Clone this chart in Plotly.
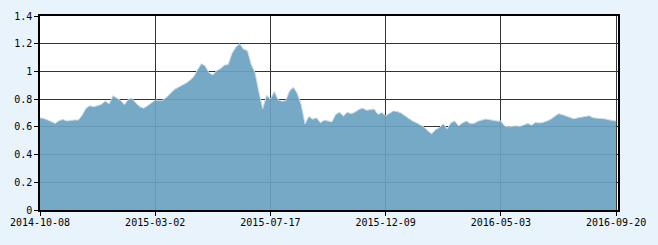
import plotly.graph_objects as go

# Values (one point per ~3.85 px of the plot width)
values = [
    0.665, 0.66, 0.649, 0.635, 0.625, 0.645, 0.653, 0.642, 0.648, 0.65,
    0.649, 0.685, 0.735, 0.752, 0.745, 0.755, 0.762, 0.786, 0.765, 0.825,
    0.81, 0.79, 0.76, 0.80, 0.805, 0.77, 0.745, 0.735, 0.752, 0.775,
    0.793, 0.79, 0.792, 0.815, 0.845, 0.87, 0.885, 0.898, 0.915, 0.935,
    0.96, 1.01, 1.055, 1.04, 0.99, 0.975, 1.005, 1.02, 1.045, 1.05,
    1.13, 1.175, 1.2, 1.16, 1.15, 1.05, 0.99, 0.85, 0.73, 0.828,
    0.80, 0.855, 0.795, 0.785, 0.79, 0.86, 0.885, 0.84, 0.76, 0.62,
    0.675, 0.655, 0.665, 0.63, 0.648, 0.642, 0.635, 0.69, 0.705, 0.678,
    0.705, 0.695, 0.705, 0.725, 0.735, 0.72, 0.724, 0.728, 0.69, 0.703,
    0.68, 0.70, 0.715, 0.71, 0.70, 0.68, 0.66, 0.642, 0.63, 0.615,
    0.598, 0.57, 0.55, 0.58, 0.595, 0.622, 0.585, 0.63, 0.642, 0.607,
    0.628, 0.642, 0.625, 0.625, 0.64, 0.648, 0.656, 0.652, 0.645, 0.642,
    0.642, 0.605, 0.60, 0.602, 0.607, 0.603, 0.615, 0.625, 0.612, 0.632,
    0.628, 0.632, 0.642, 0.655, 0.675, 0.695, 0.688, 0.677, 0.665, 0.658,
    0.665, 0.67, 0.675, 0.68, 0.665, 0.665, 0.66, 0.658, 0.65, 0.645,
    0.642,
]
x_index = list(range(len(values)))

tick_labels = ["2014-10-08", "2015-03-02", "2015-07-17", "2015-12-09", "2016-05-03", "2016-09-20"]
tick_positions = [0, 30, 60, 90, 120, 150]
y_ticks = [0, 0.2, 0.4, 0.6, 0.8, 1.0, 1.2, 1.4]

fig = go.Figure()
fig.add_trace(go.Scatter(
    x=x_index, y=values, mode="lines", fill="tozeroy",
    fillcolor="rgba(108,163,193,0.93)",
    line=dict(color="#c2dcec", width=1),
    hoverinfo="skip", showlegend=False,
))

font = dict(family="DejaVu Sans Mono, Liberation Mono, monospace", size=10, color="#000000")

fig.update_layout(
    width=658, height=245,
    margin=dict(l=38, r=40, t=10, b=35),
    paper_bgcolor="#e8f3fb",
    plot_bgcolor="#ffffff",
    font=font,
    xaxis=dict(
        range=[0, 150.5], tickvals=tick_positions, ticktext=tick_labels,
        showgrid=True, gridcolor="#333333", gridwidth=1,
        showline=True, linecolor="#000000", linewidth=1.5, mirror=True,
        ticks="outside", ticklen=4, tickcolor="#000000",
        zeroline=False, tickfont=font, ticklabelstandoff=-2,
    ),
    yaxis=dict(
        range=[0, 1.4], tickvals=y_ticks,
        ticktext=["0", "0.2", "0.4", "0.6", "0.8", "1", "1.2", "1.4"],
        showgrid=True, gridcolor="#333333", gridwidth=1,
        showline=True, linecolor="#000000", linewidth=1.5, mirror=True,
        ticks="outside", ticklen=4, tickcolor="#000000",
        zeroline=False, tickfont=font,
    ),
)

fig.write_html("out.html")
